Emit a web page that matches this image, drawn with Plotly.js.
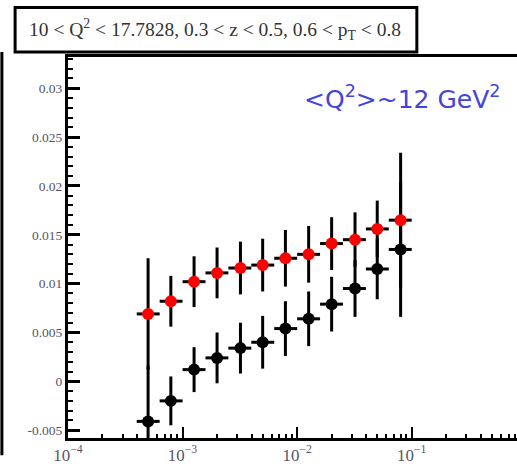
<!DOCTYPE html>
<html>
<head>
<meta charset="utf-8">
<script src="https://cdn.plot.ly/plotly-3.0.1.min.js"></script>
<style>
  html, body { margin: 0; padding: 0; background: #fff; overflow: hidden; }
  #chart { width: 580px; height: 472px; }
</style>
</head>
<body>
<div id="chart"></div>
<script>
// x bin centres and bin edges (log-spaced x bins)
const xCentre = [5.0e-4, 7.9e-4, 1.26e-3, 2.0e-3, 3.2e-3, 5.0e-3, 7.9e-3, 1.26e-2, 2.0e-2, 3.2e-2, 5.0e-2, 8.0e-2];
const xLow    = [3.98e-4, 6.31e-4, 1.0e-3, 1.585e-3, 2.51e-3, 3.98e-3, 6.31e-3, 1.0e-2, 1.585e-2, 2.51e-2, 3.98e-2, 6.31e-2];
const xHigh   = [6.31e-4, 1.0e-3, 1.585e-3, 2.51e-3, 3.98e-3, 6.31e-3, 1.0e-2, 1.585e-2, 2.51e-2, 3.98e-2, 6.31e-2, 1.0e-1];

// red series
const redY   = [0.0069, 0.0082, 0.0102, 0.0111, 0.0116, 0.0119, 0.0126, 0.0130, 0.0141, 0.0145, 0.0156, 0.0165];
const redErr = [0.0057, 0.0026, 0.0026, 0.0026, 0.0027, 0.0027, 0.0029, 0.0029, 0.0027, 0.0028, 0.0029, 0.0069];

// black series
const blackY   = [-0.0041, -0.0020, 0.0012, 0.0024, 0.0034, 0.0040, 0.0054, 0.0064, 0.0079, 0.0095, 0.0115, 0.0135];
const blackErr = [0.0057, 0.0025, 0.0023, 0.0026, 0.0026, 0.0027, 0.0028, 0.0028, 0.0028, 0.0029, 0.0031, 0.0069];

const yTickVals = [-0.005, 0, 0.005, 0.01, 0.015, 0.02, 0.025, 0.03];
const yTickText = ['-0.005', '0', '0.005', '0.01', '0.015', '0.02', '0.025', '0.03'];

const errPlus  = xCentre.map((c, i) => xHigh[i] - c);
const errMinus = xCentre.map((c, i) => c - xLow[i]);

function series(yVals, yErr, colour) {
  return {
    type: 'scatter',
    mode: 'markers',
    x: xCentre,
    y: yVals,
    marker: { color: colour, size: 12, line: { width: 0 } },
    error_y: { type: 'data', array: yErr, visible: true, color: '#000', thickness: 3, width: 0 },
    error_x: { type: 'data', array: errPlus, arrayminus: errMinus, visible: true, color: '#000', thickness: 3, width: 0 },
    showlegend: false,
    hoverinfo: 'x+y'
  };
}

const traces = [
  series(blackY, blackErr, '#000000'),
  series(redY, redErr, '#ff0000')
];

const tickFont = { family: 'Liberation Serif, Times New Roman, serif', size: 13.5, color: '#555566' };

const layout = {
  width: 580,
  height: 472,
  margin: { l: 68, r: 56, t: 57, b: 34 },
  paper_bgcolor: '#ffffff',
  plot_bgcolor: '#ffffff',
  xaxis: {
    type: 'log',
    range: [-4, -0.02],
    dtick: 1,
    exponentformat: 'power',
    ticks: 'inside',
    ticklen: 11,
    tickwidth: 2,
    tickcolor: '#000',
    minor: { ticks: 'inside', ticklen: 4, tickwidth: 2, tickcolor: '#000', dtick: 'D1' },
    showline: true,
    linewidth: 3,
    linecolor: '#000',
    mirror: true,
    showgrid: false,
    zeroline: false,
    tickfont: tickFont
  },
  yaxis: {
    range: [-0.0058, 0.0332],
    tickvals: yTickVals,
    ticktext: yTickText,
    ticks: 'inside',
    ticklen: 12,
    tickwidth: 3,
    tickcolor: '#000',
    minor: { ticks: 'inside', ticklen: 5, tickwidth: 2, tickcolor: '#000', dtick: 0.001 },
    showline: true,
    linewidth: 3,
    linecolor: '#000',
    mirror: true,
    showgrid: false,
    zeroline: false,
    tickfont: tickFont
  },
  shapes: [
    // frame edge of the neighbouring panel on the left
    { type: 'line', xref: 'paper', yref: 'paper', x0: -0.145, x1: -0.145, y0: -0.045, y1: 1.013,
      line: { color: '#000', width: 3 } },
    // title box
    { type: 'rect', xref: 'paper', yref: 'paper', x0: -0.116, x1: 0.765, y0: 1.013, y1: 1.13,
      line: { color: '#000', width: 3 }, fillcolor: '#ffffff' }
  ],
  annotations: [
    {
      xref: 'paper', yref: 'paper', x: 0.322, y: 1.071, xanchor: 'center', yanchor: 'middle',
      text: '10 &lt; Q<sup>2</sup> &lt; 17.7828, 0.3 &lt; z &lt; 0.5, 0.6 &lt; p<sub>T</sub> &lt; 0.8',
      showarrow: false,
      font: { family: 'Liberation Serif, Times New Roman, serif', size: 19.5, color: '#333' }
    },
    {
      xref: 'paper', yref: 'paper', x: 0.732, y: 0.893, xanchor: 'center', yanchor: 'middle',
      text: '&lt;Q<sup>2</sup>&gt;~12 GeV<sup>2</sup>',
      showarrow: false,
      font: { family: 'DejaVu Sans, Verdana, sans-serif', size: 25, color: '#4444dd' }
    }
  ]
};

Plotly.newPlot('chart', traces, layout, { staticPlot: true, displayModeBar: false });
</script>
</body>
</html>
